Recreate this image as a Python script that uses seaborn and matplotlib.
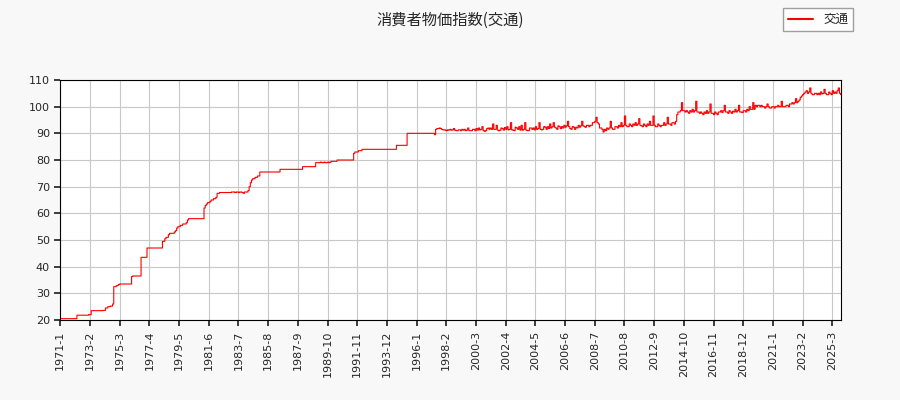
import pandas as pd
import matplotlib
matplotlib.use('Agg')
import matplotlib.pyplot as plt
import seaborn as sns

# monthly index values, one string per year (1971 .. 2025)
yearly = {
    1971: "20.5 20.5 20.5 20.5 20.5 20.5 20.5 20.5 20.5 20.5 20.5 20.5",
    1972: "20.5 20.5 21.8 21.8 21.8 21.8 21.8 21.8 21.8 21.8 21.8 21.8",
    1973: "22.0 22.0 23.5 23.5 23.5 23.5 23.5 23.5 23.5 23.5 23.5 23.5",
    1974: "23.6 23.6 24.5 24.5 25.0 25.0 25.2 25.2 26.0 32.5 32.5 32.8",
    1975: "33.0 33.3 33.5 33.5 33.5 33.5 33.5 33.5 33.5 33.5 33.5 33.5",
    1976: "36.3 36.5 36.5 36.5 36.5 36.5 36.5 36.5 43.5 43.5 43.5 43.5",
    1977: "43.5 47.0 47.0 47.0 47.0 47.0 47.0 47.0 47.0 47.0 47.0 47.0",
    1978: "47.0 47.0 49.5 49.5 50.5 51.0 51.0 52.0 52.5 52.5 52.5 52.5",
    1979: "53.0 53.5 54.5 55.0 55.0 55.5 55.5 56.0 56.0 56.0 56.5 57.5",
    1980: "58.0 58.0 58.0 58.0 58.0 58.0 58.0 58.0 58.0 58.0 58.0 58.0",
    1981: "58.0 62.0 63.0 63.5 64.0 64.0 64.5 65.0 65.0 65.5 65.5 66.0",
    1982: "67.5 67.5 67.8 67.8 67.8 67.8 67.8 67.8 67.8 67.8 67.8 67.8",
    1983: "68.0 68.0 68.0 67.8 68.0 68.0 67.8 68.0 68.0 67.8 67.5 68.0",
    1984: "68.0 68.0 68.5 70.0 71.5 72.5 73.0 73.0 73.5 73.5 74.0 74.0",
    1985: "75.5 75.5 75.5 75.5 75.5 75.5 75.5 75.5 75.5 75.5 75.5 75.5",
    1986: "75.5 75.5 75.5 75.5 75.5 76.5 76.5 76.5 76.5 76.5 76.5 76.5",
    1987: "76.5 76.5 76.5 76.5 76.5 76.5 76.5 76.5 76.5 76.5 76.5 76.5",
    1988: "77.5 77.5 77.5 77.5 77.5 77.5 77.5 77.5 77.5 77.5 77.5 79.0",
    1989: "79.0 79.0 79.0 79.2 79.0 79.0 79.2 79.0 79.0 79.2 79.0 79.2",
    1990: "79.5 79.5 79.5 79.5 79.5 80.0 80.0 80.0 80.0 80.0 80.0 80.0",
    1991: "80.0 80.0 80.0 80.0 80.0 80.0 80.0 82.5 83.0 83.0 83.0 83.5",
    1992: "83.5 83.5 84.0 84.0 84.0 84.0 84.0 84.0 84.0 84.0 84.0 84.0",
    1993: "84.0 84.0 84.0 84.0 84.0 84.0 84.0 84.0 84.0 84.0 84.0 84.0",
    1994: "84.0 84.0 84.0 84.0 84.0 84.0 84.0 85.5 85.5 85.5 85.5 85.5",
    1995: "85.5 85.5 85.5 85.5 90.0 90.0 90.0 90.0 90.0 90.0 90.0 90.0",
    1996: "90.0 90.0 90.0 90.0 90.0 90.0 90.0 90.0 90.0 90.0 90.0 90.0",
    1997: "90.0 90.0 90.0 89.5 91.5 91.8 91.8 92.0 91.8 91.5 91.3 91.3",
    1998: "91.2 91.0 91.3 91.2 91.5 91.2 91.3 91.8 91.2 91.0 91.0 91.3",
    1999: "91.3 91.0 91.5 91.2 91.5 91.0 91.2 92.0 91.0 91.0 91.0 91.5",
    2000: "91.5 91.0 91.8 91.2 92.0 91.3 91.5 92.5 91.0 90.8 91.0 91.8",
    2001: "92.0 91.5 92.0 91.5 93.5 91.5 91.5 93.0 91.2 91.0 91.2 92.0",
    2002: "91.8 91.2 92.2 91.5 92.5 91.3 91.5 94.0 91.3 91.2 91.0 92.3",
    2003: "92.0 91.5 92.5 91.2 93.0 91.2 91.5 94.0 91.2 91.0 91.0 92.0",
    2004: "92.0 91.5 92.0 91.3 92.5 91.5 91.8 94.0 91.5 91.3 91.5 92.5",
    2005: "92.3 91.5 92.5 91.8 93.5 92.0 92.5 94.0 92.3 92.0 91.5 92.8",
    2006: "92.5 91.8 92.5 92.0 93.0 92.3 92.8 94.5 92.5 91.8 91.5 92.5",
    2007: "92.3 91.5 92.3 92.0 93.0 92.3 92.8 94.5 92.8 92.5 92.3 93.0",
    2008: "93.0 92.5 93.0 93.0 94.0 94.0 94.5 96.0 94.0 93.5 92.0 92.0",
    2009: "91.5 90.5 91.5 91.0 92.0 91.5 92.0 94.5 92.0 91.5 91.5 92.5",
    2010: "92.5 92.0 93.0 92.5 94.0 92.5 93.0 96.5 93.0 92.5 92.5 93.5",
    2011: "93.0 92.5 93.5 93.0 94.0 93.0 93.5 95.5 93.0 92.8 92.5 93.5",
    2012: "93.0 92.5 93.5 93.0 94.5 93.0 93.0 96.5 93.0 92.5 92.5 93.5",
    2013: "93.0 92.5 93.0 93.0 94.0 93.0 93.5 96.0 93.5 93.5 93.0 94.0",
    2014: "94.0 93.5 94.5 97.0 98.0 98.0 98.5 101.5 98.5 98.5 98.0 98.5",
    2015: "98.0 97.5 98.5 98.0 99.0 98.0 98.5 102.0 98.0 98.0 97.5 98.0",
    2016: "97.5 97.0 98.0 97.5 98.5 97.5 98.0 101.0 97.5 97.5 97.0 98.0",
    2017: "97.5 97.0 98.0 98.0 98.5 97.8 98.5 100.5 98.0 98.0 97.5 98.5",
    2018: "98.0 97.5 98.3 98.0 99.0 98.0 98.5 100.5 98.0 98.0 97.8 98.5",
    2019: "98.5 98.0 99.0 98.5 100.0 99.0 99.0 101.5 99.0 100.5 100.0 100.5",
    2020: "100.5 100.0 100.5 100.0 100.0 99.5 100.0 101.0 100.0 99.5 99.5 100.0",
    2021: "100.0 99.5 100.0 100.0 100.5 100.0 100.0 102.0 100.0 100.0 100.0 100.5",
    2022: "100.5 100.0 101.0 101.0 101.5 101.0 101.5 103.0 101.5 102.0 102.5 103.5",
    2023: "104.0 104.5 105.0 105.5 106.0 105.0 105.5 107.0 105.0 104.5 104.5 105.0",
    2024: "105.0 104.5 105.0 104.5 105.5 104.8 105.0 106.5 105.0 104.5 104.5 105.5",
    2025: "105.0 104.5 106.0 105.0 105.5 105.0 106.0 107.0 105.0 104.5",
}

labels = []
values = []
for y, s in yearly.items():
    for m, v in enumerate(s.split(), start=1):
        labels.append(f"{y}-{m}")
        values.append(float(v))

df = pd.DataFrame({'idx': range(len(values)), 'value': values, 'label': labels})

sns.set_theme(style="white")
plt.rcParams['font.family'] = ['DejaVu Sans', 'Noto Sans CJK JP']

fig = plt.figure(figsize=(9, 4), dpi=100, facecolor='#f8f8f8')
ax = fig.add_axes([0.067, 0.2, 0.867, 0.6])
ax.set_facecolor('white')
sns.lineplot(data=df, x='idx', y='value', color='red', linewidth=0.8,
             drawstyle='steps-post', ax=ax, label='交通')

ticks = list(range(0, len(values), 25))
ax.set_xticks(ticks)
ax.set_xticklabels([labels[i] for i in ticks], rotation=90, fontsize=8)
ax.set_xlim(0, len(values) - 1)
ax.set_ylim(20, 110)
ax.set_yticks(range(20, 111, 10))
ax.tick_params(axis='y', labelsize=8, left=True, length=4)
ax.tick_params(axis='x', bottom=True, length=4)
ax.grid(True, color='#c8c8c8', linewidth=0.8)
ax.set_xlabel('')
ax.set_ylabel('')
for sp in ax.spines.values():
    sp.set_color('black')
    sp.set_linewidth(0.8)

fig.suptitle('消費者物価指数(交通)', y=0.97, fontsize=11,
             family=['Noto Sans CJK JP', 'DejaVu Sans'])
leg = ax.legend(loc='upper right', bbox_to_anchor=(0.955, 0.995), bbox_transform=fig.transFigure,
                fontsize=9, frameon=True, fancybox=False, edgecolor='#888888',
                prop={'family': ['Noto Sans CJK JP', 'DejaVu Sans'], 'size': 9})
for line in leg.get_lines():
    line.set_linewidth(1.5)

fig.savefig('out.png', dpi=100, facecolor=fig.get_facecolor())
